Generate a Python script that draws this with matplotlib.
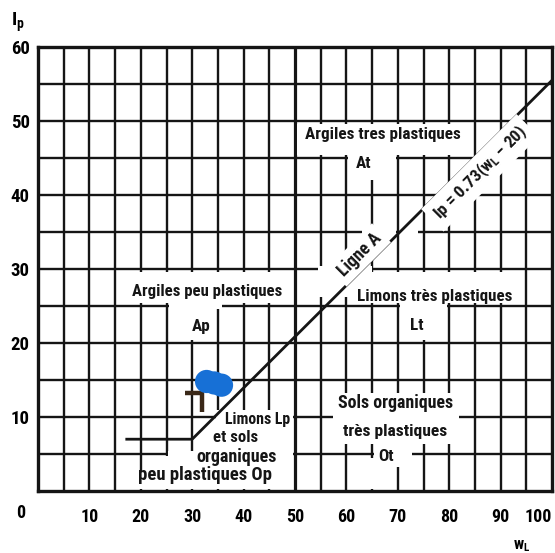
import matplotlib
matplotlib.use("Agg")
import matplotlib.pyplot as plt
import numpy as np
from matplotlib.patches import Rectangle
from matplotlib import font_manager as fm

# ---------------- data ----------------
x_tick_values = [10, 20, 30, 40, 50, 60, 70, 80, 90, 100]
y_tick_values = [10, 20, 30, 40, 50, 60]
grid_wl = list(range(5, 100, 5))
grid_ip = list(range(5, 60, 5))

aline_wl = [17, 30, 100]
aline_ip = [7.0, 7.0, 55.5]

sample_wl = [32.8, 34.3, 35.7]
sample_ip = [14.8, 14.6, 14.3]

mark_wl = [28.6, 32.0, 32.0]
mark_ip = [13.2, 13.2, 10.7]

zone_texts = ["Argiles tres plastiques", "At", "Argiles peu plastiques", "Ap",
              "Limons très plastiques", "Lt", "Sols organiques", "très plastiques",
              "Ot", "Limons Lp", "et sols", "organiques", "peu plastiques Op"]
zone_wl = [67.0, 63.3, 33.0, 31.7, 77.2, 73.7, 69.5, 69.5, 67.7, 42.7, 38.5, 38.7, 32.5]
zone_ip = [48.2, 44.3, 27.0, 22.2, 26.3, 22.4, 11.9, 8.0, 4.6, 9.6, 7.2, 4.6, 2.2]
# widths of the labels in the reference (pixels); 0 = use common size
zone_px = [155, 0, 150, 0, 154, 0, 115, 104, 0, 65, 45, 80, 134]

# ---------------- font choice: a bold condensed face if one exists ----------------
entries = fm.fontManager.ttflist
fam, stretch = None, "normal"
for want in ["Liberation Sans Narrow", "Roboto Condensed", "Open Sans Condensed",
             "Noto Sans Condensed", "Arial Narrow"]:
    if any(e.name == want for e in entries):
        fam = want
        break
if fam is None:
    for e in entries:
        st = str(e.stretch)
        if st in ("condensed", "semi-condensed", "extra-condensed", "ultra-condensed") \
                and e.name in ("DejaVu Sans", "Roboto", "Noto Sans", "Open Sans", "Liberation Sans", "Lato", "Inter"):
            fam, stretch = e.name, st
            break
if fam is None:
    fam = "Liberation Sans"

WEIGHT = "heavy"
FONT = [fam, "DejaVu Sans"]
plt.rcParams["font.family"] = FONT
plt.rcParams["font.weight"] = WEIGHT
plt.rcParams["font.stretch"] = stretch
plt.rcParams["mathtext.default"] = "regular"

W, H = 555, 553
fig = plt.figure(figsize=(W / 100, H / 100), dpi=100)
ax = fig.add_axes([38 / W, 62 / H, 514 / W, 444 / H])
ax.set_xlim(0, 100)
ax.set_ylim(0, 60)

INK = "#151515"
ax.vlines([g for g in grid_wl if g != 50], 0, 60, color=INK, lw=1.7, zorder=1)
ax.vlines([50], 0, 60, color=INK, lw=2.3, zorder=1)
ax.hlines(grid_ip, 0, 100, color=INK, lw=1.7, zorder=1)

masks = [
    (50.4, 82.0, 45.35, 49.65),
    (60.35, 69.7, 42.0, 45.6),
    (15.4, 49.6, 25.35, 29.65),
    (25.4, 34.6, 20.35, 25.5),
    (25.4, 35.8, 24.6, 25.4),
    (62.5, 92.5, 25.35, 29.65),
    (70.35, 79.65, 20.35, 25.5),
    (54.4, 62.5, 26.2, 30.4),
    (62.5, 65.0, 29.6, 30.4),
    (63.0, 69.6, 32.4, 35.4),
    (70.4, 73.9, 34.6, 35.4),
    (57.3, 82.0, 6.3, 13.3),
    (65.3, 72.8, 3.2, 6.3),
    (64.6, 65.4, 0.3, 4.5),
    (34.7, 49.6, 0.3, 11.0),
    (24.6, 34.7, 0.3, 4.75),
    (25.3, 34.7, 4.6, 5.4),
    (19.6, 24.6, 0.3, 2.6),
]
for x0, x1, y0, y1 in masks:
    ax.add_patch(Rectangle((x0, y0), x1 - x0, y1 - y0, facecolor="white",
                           edgecolor="none", zorder=2))

ax.plot(aline_wl, aline_ip, color=INK, lw=2.0, zorder=3, solid_capstyle="butt")

for s in ax.spines.values():
    s.set_linewidth(2.4)
    s.set_color(INK)
    s.set_zorder(4)

# ticks
TICK = 13
ax.set_xticks(x_tick_values)
xl = ax.set_xticklabels([str(v) for v in x_tick_values], fontweight=WEIGHT, fontsize=TICK)
ax.set_yticks(y_tick_values)
ax.set_yticklabels([str(v) for v in y_tick_values], fontweight=WEIGHT, fontsize=TICK + 0.5)
ax.tick_params(axis="x", length=0, pad=12)
ax.tick_params(axis="y", length=0, pad=6)
xl[-1].set_horizontalalignment("right")
ax.annotate("0", xy=(0, 0), xycoords=("data", "axes fraction"), xytext=(-17, -22),
            textcoords="offset pixels", ha="center", va="center",
            fontsize=TICK, fontweight=WEIGHT)

fig.text(18 / W, 1 - 22 / H, "I$_p$", fontsize=14, fontweight=WEIGHT,
         ha="center", va="center")
fig.text(522 / W, 1 - 546 / H, "w$_L$", fontsize=11.5, fontweight=WEIGHT,
         ha="center", va="center")

fig.canvas.draw()
renderer = fig.canvas.get_renderer()


def fit(txt, target, base=11.0, lo=8.0, hi=13.5):
    txt.set_fontsize(base)
    w = txt.get_window_extent(renderer).width
    size = min(hi, max(lo, base * target / w))
    txt.set_fontsize(size)
    return size


# zone labels, sized to the reference widths
objs, sizes = [], []
for t, x, y, px in zip(zone_texts, zone_wl, zone_ip, zone_px):
    o = ax.text(x, y, t, ha="center", va="center", fontweight=WEIGHT,
                color=INK, zorder=5)
    objs.append(o)
    if px:
        sizes.append(fit(o, px))
common = float(np.median(sizes))
for o, px in zip(objs, zone_px):
    if not px:
        o.set_fontsize(common)

# rotated labels along the A-line
p0 = ax.transData.transform((aline_wl[1], aline_ip[1]))
p1 = ax.transData.transform((aline_wl[2], aline_ip[2]))
ang = np.degrees(np.arctan2(p1[1] - p0[1], p1[0] - p0[0]))
la = ax.text(62.5, 31.9, "Ligne A", rotation=0, rotation_mode="anchor",
             ha="center", va="center", fontweight=WEIGHT, color=INK, zorder=5,
             bbox=dict(facecolor="white", edgecolor="none", pad=2.5))
fit(la, 54)
la.set_rotation(ang)
lb = ax.text(86.0, 43.0, "Ip = 0.73(w$_L$ − 20)", rotation=0, rotation_mode="anchor",
             ha="center", va="center", fontweight=WEIGHT, color=INK, zorder=5,
             bbox=dict(facecolor="white", edgecolor="none", pad=3))
fit(lb, 124)
lb.set_rotation(ang)

ax.plot(mark_wl, mark_ip, color="#3a2818", lw=3.2, zorder=5, solid_capstyle="butt")
ax.scatter(sample_wl, sample_ip, s=280, color="#1770d6", edgecolors="none", zorder=6)

fig.savefig("out.png", dpi=100)
